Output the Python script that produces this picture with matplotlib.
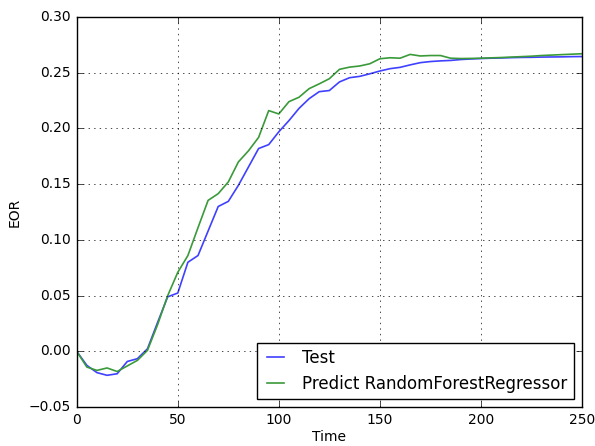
import numpy as np
import matplotlib
matplotlib.use("Agg")
import matplotlib.pyplot as plt

plt.style.use("classic")

# time axis, one sample every 5 units
time = np.arange(0, 251, 5)

# EOR - test
test = [0.000, -0.0125, -0.019, -0.0214, -0.020, -0.009, -0.0065, 0.0024, 0.026, 0.049,
        0.0524, 0.080, 0.086, 0.108, 0.130, 0.1346, 0.149, 0.1655, 0.182, 0.1855,
        0.197, 0.207, 0.218, 0.2267, 0.233, 0.234, 0.2417, 0.2455, 0.2467, 0.249,
        0.2515, 0.2536, 0.2548, 0.257, 0.259, 0.260, 0.2606, 0.261, 0.2618, 0.2623,
        0.2627, 0.263, 0.2632, 0.2635, 0.2637, 0.2638, 0.264, 0.2641, 0.2642, 0.2644,
        0.2645]

# EOR - random forest prediction
predict = [0.000, -0.014, -0.017, -0.0148, -0.018, -0.013, -0.008, 0.001, 0.024, 0.050,
           0.071, 0.086, 0.111, 0.1355, 0.1415, 0.152, 0.170, 0.180, 0.192, 0.216,
           0.213, 0.224, 0.228, 0.2357, 0.240, 0.2446, 0.253, 0.255, 0.256, 0.258,
           0.2625, 0.2634, 0.263, 0.2664, 0.265, 0.2654, 0.2654, 0.263, 0.2627, 0.2628,
           0.263, 0.2633, 0.2636, 0.264, 0.2644, 0.2648, 0.2654, 0.2658, 0.2662, 0.2666,
           0.267]

fig = plt.figure(figsize=(5.95, 4.46), dpi=100, facecolor="white")
ax = fig.add_axes([0.129, 0.087, 0.849, 0.875])

ax.plot(time, test, color="#4040ff", lw=1.2, label="Test")
ax.plot(time, predict, color="#3a9a3a", lw=1.2, label="Predict RandomForestRegressor")

ax.set_xlim(0, 250)
ax.set_ylim(-0.05, 0.30)
ax.set_xticks(np.arange(0, 251, 50))
ax.set_yticks(np.arange(-0.05, 0.301, 0.05))
ax.tick_params(labelsize=10)
ax.grid(True)
ax.set_xlabel("Time", fontsize=10, labelpad=2)
ax.set_ylabel("EOR", fontsize=10)
ax.legend(loc="lower right", fontsize=12, handlelength=1.6, borderpad=0.35)

fig.savefig("out.png", dpi=100, facecolor="white")
